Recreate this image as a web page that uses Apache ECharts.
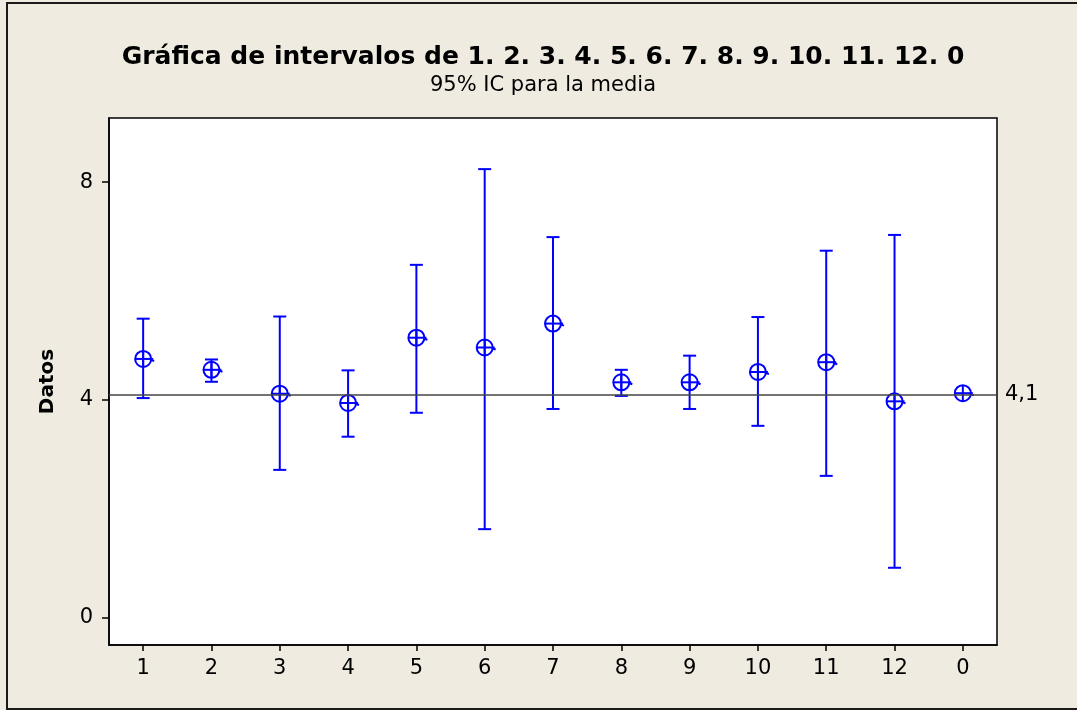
<!DOCTYPE html>
<html>
<head>
<meta charset="utf-8">
<script src="https://cdn.jsdelivr.net/npm/echarts@6/dist/echarts.min.js"></script>
<style>
  html, body { margin: 0; padding: 0; background: #efebe1; }
  #chart { width: 1077px; height: 710px; }
</style>
</head>
<body>
<div id="chart"></div>
<script>
// groups on the x axis
const categories = ['1', '2', '3', '4', '5', '6', '7', '8', '9', '10', '11', '12', '0']
// means and 95% CI bounds (group "0" has no interval)
const means = [4.75, 4.55, 4.11, 3.94, 5.14, 4.96, 5.40, 4.32, 4.32, 4.51, 4.69, 3.97, 4.12]
const lower = [4.03, 4.33, 2.71, 3.32, 3.76, 1.62, 3.83, 4.07, 3.83, 3.52, 2.60, 0.91, null]
const upper = [5.49, 4.74, 5.53, 4.54, 6.48, 8.24, 6.99, 4.55, 4.81, 5.52, 6.74, 7.03, null]
const refValue = 4.1
const refLabel = '4,1'
const yTicks = [0, 4, 8]

const blue = '#0000ff'
const font = 'DejaVu Sans'

const chart = echarts.init(document.getElementById('chart'), null, { renderer: 'canvas' })

const intervalData = []
categories.forEach((c, i) => {
  if (lower[i] != null) intervalData.push([i, lower[i], upper[i]])
})
const meanData = means.map((m, i) => [i, m])

const option = {
  backgroundColor: '#efebe1',
  animation: false,
  graphic: [
    {
      type: 'rect',
      shape: { x: 7, y: 3, width: 1200, height: 706 },
      style: { fill: 'none', stroke: '#1a1a1a', lineWidth: 2 },
      silent: true
    },
    {
      type: 'text', x: 543, y: 57,
      style: {
        text: 'Gráfica de intervalos de 1. 2. 3. 4. 5. 6. 7. 8. 9. 10. 11. 12. 0',
        font: 'bold 25px "' + font + '"', fill: '#000', align: 'center', verticalAlign: 'middle'
      }
    },
    {
      type: 'text', x: 543, y: 86,
      style: {
        text: '95% IC para la media',
        font: '21px "' + font + '"', fill: '#000', align: 'center', verticalAlign: 'middle'
      }
    }
  ],
  grid: {
    left: 109, right: 80, top: 118, bottom: 65,
    show: true, backgroundColor: '#ffffff', borderColor: '#000', borderWidth: 1.5
  },
  xAxis: {
    type: 'category',
    data: categories,
    boundaryGap: true,
    axisLine: { show: true, onZero: false, lineStyle: { color: '#000', width: 1.5 } },
    axisTick: { show: true, alignWithLabel: true, length: 6, lineStyle: { color: '#000', width: 1.5 } },
    axisLabel: { color: '#000', fontSize: 21, fontFamily: font, margin: 13 },
    splitLine: { show: false }
  },
  yAxis: {
    type: 'value',
    min: -0.51,
    max: 9.18,
    name: 'Datos',
    nameLocation: 'middle',
    nameGap: 51,
    nameRotate: 90,
    nameTextStyle: { color: '#000', fontSize: 20, fontWeight: 'bold', fontFamily: font },
    axisLine: { show: true, lineStyle: { color: '#000', width: 1.5 } },
    axisTick: { show: true, length: 7, customValues: yTicks, lineStyle: { color: '#000', width: 1.5 } },
    axisLabel: { color: '#000', fontSize: 21, fontFamily: font, margin: 16, customValues: yTicks },
    splitLine: { show: false }
  },
  series: [
    {
      type: 'custom',
      name: 'IC',
      data: intervalData,
      encode: { x: 0, y: [1, 2] },
      renderItem: (params, api) => {
        const x = api.value(0)
        const lo = api.coord([x, api.value(1)])
        const hi = api.coord([x, api.value(2)])
        const w = 6.5
        const style = { stroke: blue, lineWidth: 2 }
        return {
          type: 'group',
          children: [
            { type: 'line', shape: { x1: lo[0], y1: lo[1], x2: hi[0], y2: hi[1] }, style },
            { type: 'line', shape: { x1: hi[0] - w, y1: hi[1], x2: hi[0] + w, y2: hi[1] }, style },
            { type: 'line', shape: { x1: lo[0] - w, y1: lo[1], x2: lo[0] + w, y2: lo[1] }, style }
          ]
        }
      },
      z: 3
    },
    {
      type: 'custom',
      name: 'Media',
      data: meanData,
      encode: { x: 0, y: 1 },
      renderItem: (params, api) => {
        const p = api.coord([api.value(0), api.value(1)])
        const r = 8
        const style = { stroke: blue, lineWidth: 2, fill: 'none' }
        return {
          type: 'group',
          children: [
            { type: 'circle', shape: { cx: p[0], cy: p[1], r }, style },
            { type: 'line', shape: { x1: p[0] - r, y1: p[1], x2: p[0] + r + 2, y2: p[1] }, style },
            { type: 'line', shape: { x1: p[0], y1: p[1] - r, x2: p[0], y2: p[1] + r }, style },
            { type: 'line', shape: { x1: p[0] + r, y1: p[1] + 1, x2: p[0] + r + 3, y2: p[1] + 2 }, style }
          ]
        }
      },
      markLine: {
        silent: true,
        symbol: 'none',
        lineStyle: { color: '#444', width: 1.5, type: 'solid' },
        label: {
          show: true, position: 'end', formatter: refLabel, distance: 8,
          color: '#000', fontSize: 21, fontFamily: font
        },
        data: [{ yAxis: refValue }]
      },
      z: 4
    }
  ]
}

chart.setOption(option)
</script>
</body>
</html>
